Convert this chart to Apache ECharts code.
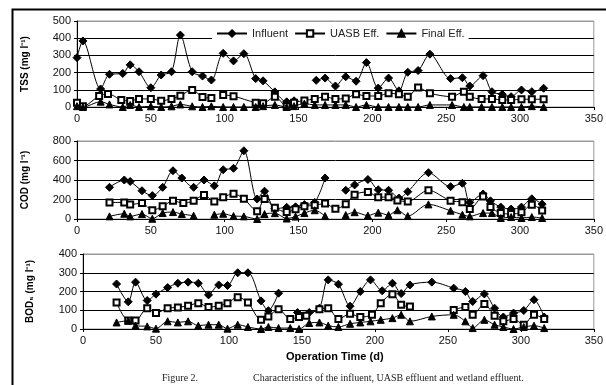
<!DOCTYPE html>
<html>
<head>
<meta charset="utf-8">
<script src="https://cdn.jsdelivr.net/npm/echarts@6/dist/echarts.min.js"></script>
<style>
html, body { margin: 0; padding: 0; background: #fff; }
#chart { width: 606px; height: 385px; }
</style>
</head>
<body>
<div id="chart"></div>
<script>
// [day, value]; '-' marks a break in the line
const tssInfluent = [[0,287],[4,384],[16,105],[22,190],[31,195],[36,245],[42,205],[50,112],[57,186],[64,205],[70,418],[78,205],[85,180],[91,157],[99,312],[106,268],[113,310],[121,165],[126,152],[134,88],[142,30],[147,36],[155,'-'],[162,155],[168,168],[175,122],[182,176],[189,150],[196,258],[204,110],[211,168],[218,94],[224,202],[231,212],[239,307],[253,165],[261,170],[266,122],[275,182],[281,89],[288,74],[294,60],[301,99],[308,89],[316,109]]
const tssUasb = [[0,25],[4,5],[15,64],[21,76],[30,41],[36,35],[42,47],[50,47],[57,37],[64,47],[70,66],[78,99],[85,58],[91,52],[95,'-'],[99,70],[106,63],[121,25],[126,22],[134,60],[142,5],[147,25],[154,38],[161,47],[168,60],[175,47],[182,50],[189,74],[196,64],[204,64],[211,80],[218,74],[224,60],[231,114],[239,80],[254,60],[262,89],[266,60],[274,47],[281,47],[288,41],[294,41],[301,45],[308,45],[316,45]]
const tssFinal = [[0,5],[4,0],[16,31],[22,15],[31,0],[36,12],[42,0],[50,4],[57,0],[64,4],[70,15],[78,4],[85,0],[91,4],[99,0],[106,0],[113,0],[121,0],[126,5],[134,12],[142,0],[147,5],[154,20],[161,12],[168,12],[175,12],[182,12],[189,0],[196,12],[204,0],[211,0],[218,0],[224,0],[231,0],[239,12],[254,12],[262,0],[266,0],[274,0],[281,0],[288,0],[294,0],[301,0],[308,5],[316,0]]

const codInfluent = [[22,325],[32,400],[36,385],[44,290],[51,240],[58,325],[65,495],[71,420],[79,325],[86,400],[93,340],[99,505],[106,520],[113,700],[122,205],[127,285],[134,105],[142,120],[148,125],[154,148],[161,170],[168,420],[175,'-'],[182,295],[188,350],[197,405],[204,300],[211,295],[218,215],[224,280],[238,475],[253,332],[261,366],[266,170],[275,257],[280,186],[287,122],[294,102],[301,122],[308,207],[315,153]]
const codUasb = [[22,170],[32,170],[36,148],[44,163],[51,90],[58,130],[65,186],[72,163],[79,186],[86,247],[93,180],[99,224],[106,258],[113,207],[122,80],[127,205],[134,115],[142,72],[148,100],[154,130],[161,140],[168,160],[175,105],[182,152],[188,250],[197,278],[204,224],[211,224],[217,190],[224,180],[238,295],[253,186],[261,173],[266,102],[275,230],[280,122],[287,61],[294,51],[301,68],[308,146],[315,88]]
const codFinal = [[22,27],[32,54],[36,27],[44,51],[51,3],[58,61],[65,71],[71,51],[79,34],[86,'-'],[93,44],[99,54],[106,30],[113,27],[122,0],[127,51],[134,60],[142,5],[148,25],[154,61],[161,90],[168,30],[175,'-'],[182,40],[188,70],[197,35],[204,65],[211,40],[217,90],[224,30],[238,150],[253,85],[261,44],[266,27],[275,61],[281,61],[287,10],[294,20],[301,10],[308,20],[315,10]]

const bodInfluent = [[23,240],[31,145],[36,250],[44,152],[50,186],[58,221],[65,244],[72,250],[79,244],[86,182],[93,235],[99,232],[106,300],[113,300],[122,150],[127,98],[134,191],[140,'-'],[147,88],[155,88],[162,111],[168,262],[175,239],[183,122],[190,200],[197,262],[205,204],[212,244],[218,189],[224,235],[239,250],[254,218],[262,200],[267,147],[275,187],[282,111],[288,64],[295,85],[302,99],[309,156],[316,64]]
const bodUasb = [[23,141],[31,46],[36,46],[44,111],[50,85],[58,111],[65,115],[72,124],[79,138],[86,117],[93,124],[99,138],[106,170],[113,141],[122,49],[127,67],[134,106],[142,53],[148,64],[153,71],[162,106],[168,111],[175,53],[183,81],[190,64],[198,76],[204,138],[212,186],[218,129],[224,120],[240,'-'],[254,102],[262,117],[267,76],[275,133],[282,71],[288,41],[295,53],[302,23],[309,76],[316,53]]
const bodFinal = [[23,35],[31,44],[36,18],[44,14],[50,2],[58,41],[65,35],[72,41],[79,18],[86,23],[93,23],[99,2],[106,23],[113,11],[122,0],[127,11],[134,5],[142,5],[148,0],[155,32],[162,35],[168,18],[175,11],[183,28],[190,35],[197,41],[204,49],[212,58],[218,76],[224,41],[239,67],[254,76],[262,41],[267,5],[275,49],[282,23],[288,11],[295,0],[302,11],[309,18],[316,5]]

const seriesNames = ['Influent', 'UASB Eff.', 'Final Eff.']
const axisTitles = ['TSS (mg l\u207B\u00B9)', 'COD (mg l\u207B\u00B9)', 'BOD\u2085 (mg l\u207B\u00B9)']
const yMax = [500, 800, 400]
const yStep = [100, 200, 100]

const font = 'Liberation Sans, Arial, sans-serif'
const symbols = {
  'Influent': ['diamond', 8],
  'UASB Eff.': ['emptyRect', 6],
  'Final Eff.': ['triangle', 7]
}

function makeSeries(name, data, idx) {
  return {
    name: name,
    type: 'line',
    xAxisIndex: idx,
    yAxisIndex: idx,
    data: data,
    smooth: 0.3,
    symbol: symbols[name][0],
    symbolSize: symbols[name][1],
    lineStyle: { color: '#000', width: 1 },
    itemStyle: { color: '#000', borderColor: '#000', borderWidth: 1 }
  }
}

const grids = [
  { left: 77, top: 21, width: 523, height: 86 },
  { left: 77, top: 141, width: 523, height: 78 },
  { left: 83, top: 254, width: 515, height: 75 }
].map(g => Object.assign(g, { show: true, borderColor: '#999', borderWidth: 1 }))

const xAxes = grids.map((g, i) => ({
  type: 'value',
  gridIndex: i,
  min: 0,
  max: 350,
  interval: 50,
  axisLine: { lineStyle: { color: '#000', width: 1 } },
  axisTick: { show: true, length: 3, lineStyle: { color: '#000' } },
  axisLabel: { showMaxLabel: true, color: '#111', fontFamily: font, fontSize: 11, margin: 6 },
  splitLine: { show: false }
}))

const yAxes = grids.map((g, i) => {
  const n = yMax[i] / yStep[i]
  const colors = []
  for (let k = 0; k < n; k++) colors.push('#000')
  colors.push('#999')
  return {
    type: 'value',
    gridIndex: i,
    min: 0,
    max: yMax[i],
    interval: yStep[i],
    name: axisTitles[i],
    nameLocation: 'middle',
    nameRotate: 90,
    nameGap: i === 2 ? 48 : 47,
    nameTextStyle: { fontFamily: font, fontSize: 10, fontWeight: 'bold', color: '#000' },
    axisLine: { show: true, lineStyle: { color: '#000', width: 1 } },
    axisTick: { show: true, length: 3, lineStyle: { color: '#000' } },
    axisLabel: { color: '#111', fontFamily: font, fontSize: 11, margin: 6 },
    splitLine: { show: true, lineStyle: { color: colors, width: 1 } }
  }
})

const chart = echarts.init(document.getElementById('chart'))
chart.setOption({
  animation: false,
  backgroundColor: '#fff',
  legend: {
    data: seriesNames,
    left: 212,
    top: 26,
    itemWidth: 30,
    itemHeight: 8,
    itemGap: 6,
    padding: [2, 4],
    backgroundColor: '#fff',
    textStyle: { fontFamily: font, fontSize: 11, color: '#222' }
  },
  grid: grids,
  xAxis: xAxes,
  yAxis: yAxes,
  series: [
    makeSeries('Influent', tssInfluent, 0),
    makeSeries('UASB Eff.', tssUasb, 0),
    makeSeries('Final Eff.', tssFinal, 0),
    makeSeries('Influent', codInfluent, 1),
    makeSeries('UASB Eff.', codUasb, 1),
    makeSeries('Final Eff.', codFinal, 1),
    makeSeries('Influent', bodInfluent, 2),
    makeSeries('UASB Eff.', bodUasb, 2),
    makeSeries('Final Eff.', bodFinal, 2)
  ],
  graphic: [
    // outer frame of the figure, cut by the picture edge
    { type: 'rect', left: 10, top: 7, shape: { width: 700, height: 500 }, style: { fill: null, stroke: '#000', lineWidth: 2 }, silent: true },
    { type: 'text', left: 286, top: 351, style: { text: 'Operation Time (d)', font: 'bold 11px Liberation Sans, Arial, sans-serif', fill: '#000' } },
    { type: 'text', left: 162, top: 373, style: { text: 'Figure 2.', font: '10px Liberation Serif, Times New Roman, serif', fill: '#222' } },
    { type: 'text', left: 253, top: 373, style: { text: 'Characteristics of the influent, UASB effluent and wetland effluent.', font: '10px Liberation Serif, Times New Roman, serif', fill: '#222' } }
  ]
})
</script>
</body>
</html>
